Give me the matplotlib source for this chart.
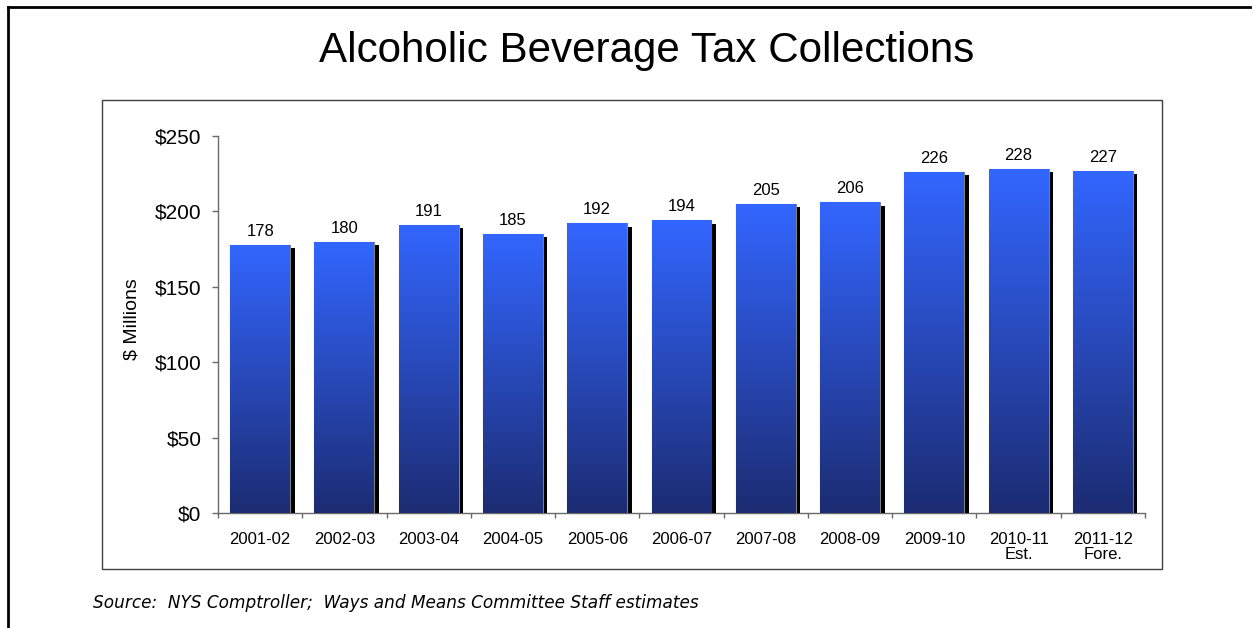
import matplotlib
matplotlib.use("Agg")
import matplotlib.pyplot as plt
import matplotlib.patheffects as pe
from matplotlib.patches import Rectangle
from matplotlib.lines import Line2D
from matplotlib.colors import LinearSegmentedColormap
from matplotlib.ticker import FuncFormatter, FixedLocator
import numpy as np

# Fiscal years and collections ($ millions)
years = ["2001-02", "2002-03", "2003-04", "2004-05", "2005-06", "2006-07",
         "2007-08", "2008-09", "2009-10", "2010-11\nEst.", "2011-12\nFore."]
collections = [178, 180, 191, 185, 192, 194, 205, 206, 226, 228, 227]
y_ticks = [0, 50, 100, 150, 200, 250]

plt.rcParams["font.family"] = ["Liberation Sans", "DejaVu Sans"]

W, H = 1253, 628
fig = plt.figure(figsize=(W / 100, H / 100), dpi=100)
fig.patch.set_facecolor("white")

# Page frame (top and left rules) and the chart's inner box
fig.add_artist(Line2D([8 / W, 1250 / W], [1 - 7 / H, 1 - 7 / H],
                      transform=fig.transFigure, color="black", lw=2))
fig.add_artist(Line2D([8 / W, 8 / W], [0, 1 - 7 / H],
                      transform=fig.transFigure, color="black", lw=2))
fig.add_artist(Rectangle((102 / W, 1 - 569 / H), (1162 - 102) / W, (569 - 100) / H,
                         transform=fig.transFigure, fill=False,
                         edgecolor="#404040", lw=1))

fig.text(646.5 / W, 1 - 51 / H, "Alcoholic Beverage Tax Collections",
         ha="center", va="center", fontsize=30.3)

ax = fig.add_axes([218 / W, 1 - 513 / H, (1145 - 218) / W, (513 - 136) / H])
ax.set_facecolor("none")

x = np.arange(len(years))
bar_w = 0.71
bars = ax.bar(x, collections, width=bar_w, color="#1C2C74", edgecolor="#7f7f7f",
              linewidth=0.8, zorder=3)

grad_cmap = LinearSegmentedColormap.from_list("blue_grad", ["#1C2C72", "#3366FF"])
grad = np.linspace(0, 1, 256).reshape(-1, 1)
for rect, v in zip(bars, collections):
    rect.set_path_effects([pe.SimplePatchShadow(offset=(3.3, -2.3), shadow_rgbFace="black",
                                                alpha=1.0), pe.Normal()])
    x0 = rect.get_x()
    im = ax.imshow(grad, cmap=grad_cmap, origin="lower", aspect="auto",
                   extent=[x0, x0 + bar_w, 0, v], zorder=3.5, interpolation="bilinear")
    im.set_clip_path(rect)
    ax.annotate(str(v), (rect.get_x() + bar_w / 2, v), xytext=(0, 6.5),
                textcoords="offset points", ha="center", va="baseline", fontsize=12)

ax.set_xlim(-0.5, len(years) - 0.5)
ax.set_ylim(0, 250)

for s in ["top", "right"]:
    ax.spines[s].set_visible(False)
for s in ["left", "bottom"]:
    ax.spines[s].set_color("#6a6a6a")
    ax.spines[s].set_linewidth(1)

ax.yaxis.set_major_locator(FixedLocator(y_ticks))
ax.yaxis.set_major_formatter(FuncFormatter(lambda v, p: f"${v:.0f}"))
ax.tick_params(axis="y", direction="out", length=4.3, width=1, color="#6a6a6a",
               labelsize=15, pad=7.5)

ax.set_xticks(x)
ax.set_xticklabels(years, fontsize=12, linespacing=1.0)
ax.tick_params(axis="x", which="major", length=0, pad=13.7)
ax.set_xticks(np.arange(-0.5, len(years)), minor=True)
ax.tick_params(axis="x", which="minor", direction="out", length=3.6, width=1,
               color="#6a6a6a")

ax.set_ylabel("$ Millions", fontsize=14)
ax.yaxis.set_label_coords((141 - 218) / (1145 - 218), (513 - 319) / (513 - 136))

fig.text(93 / W, 1 - 603 / H,
         "Source:  NYS Comptroller;  Ways and Means Committee Staff estimates",
         ha="left", va="center", fontsize=12.2, style="italic",
         family=["DejaVu Sans"])

fig.savefig("out.png", dpi=100)
